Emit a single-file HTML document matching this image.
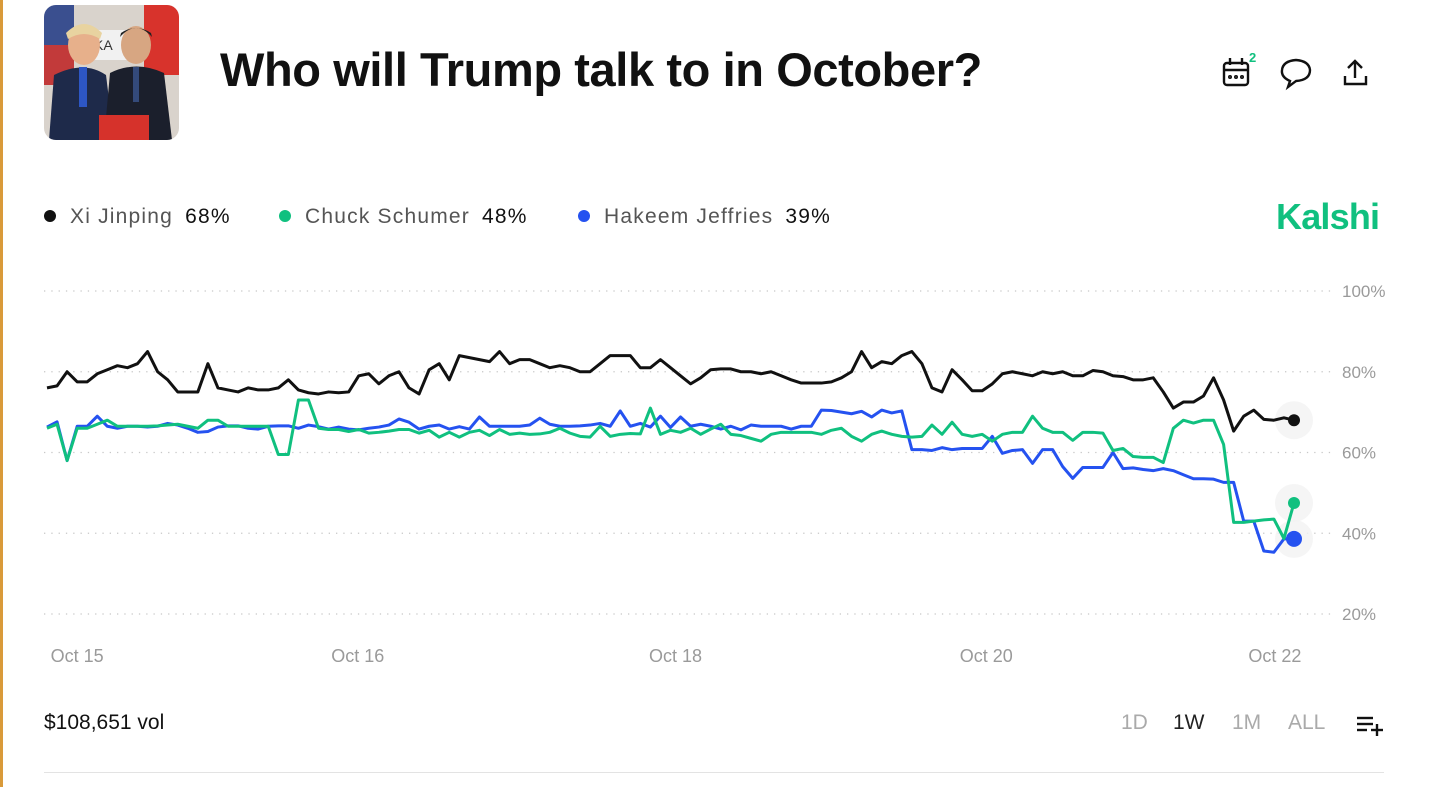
<!DOCTYPE html>
<html><head><meta charset="utf-8">
<style>
html,body{margin:0;padding:0;background:#fff;width:1456px;height:787px;overflow:hidden;font-family:"Liberation Sans",sans-serif;}
#edge{position:absolute;left:0;top:0;width:3px;height:787px;background:#d99a3a;}
#thumb{position:absolute;left:44px;top:5px;width:135px;height:135px;border-radius:12px;overflow:hidden;}
#title{position:absolute;left:220px;top:42px;font-size:47px;font-weight:bold;color:#111;letter-spacing:-0.4px;}
.leg{position:absolute;top:205px;font-size:21px;color:#555;white-space:nowrap;letter-spacing:1.2px}
.leg b{font-weight:normal;color:#111;margin-left:12px}
.dot{display:inline-block;width:12px;height:12px;border-radius:6px;margin-right:14px;vertical-align:1px}
#kalshi{position:absolute;left:1276px;top:196px;font-size:36px;font-weight:bold;color:#10c07f;letter-spacing:-0.8px}
#vol{position:absolute;left:44px;top:711px;font-size:21px;color:#111}
.tf{position:absolute;top:711px;font-size:21px;color:#aaa}
#sep{position:absolute;left:44px;top:772px;width:1340px;height:1px;background:#e3e3e3}
svg text{font-family:"Liberation Sans",sans-serif}
</style></head><body>
<div id="edge"></div>
<div id="thumb">
<svg width="135" height="135" viewBox="0 0 135 135">
<rect width="135" height="135" fill="#d9d3cc"/>
<rect x="0" y="0" width="30" height="40" fill="#3a4f8f"/>
<rect x="0" y="40" width="30" height="40" fill="#c23a3a"/>
<rect x="100" y="0" width="35" height="70" fill="#d8332c"/>
<rect x="45" y="25" width="45" height="30" fill="#f1f1f1"/>
<text x="50" y="45" font-size="14" fill="#333">KA</text>
<ellipse cx="40" cy="40" rx="16" ry="20" fill="#e7b08b"/>
<path d="M22 28 Q40 10 58 28 L56 34 Q40 24 24 34Z" fill="#e8d3a0"/>
<path d="M5 135 L10 70 Q40 55 62 70 L70 135Z" fill="#1e2a4a"/>
<rect x="35" y="62" width="8" height="40" fill="#2d56c4"/>
<ellipse cx="92" cy="40" rx="15" ry="19" fill="#d7a682"/>
<path d="M76 32 Q92 14 108 32 L107 28 Q92 18 77 28Z" fill="#222"/>
<path d="M60 135 L66 68 Q92 55 120 68 L128 135Z" fill="#1b1f2c"/>
<rect x="89" y="62" width="6" height="35" fill="#344a7a"/>
<rect x="55" y="110" width="50" height="25" fill="#d6322b"/>
</svg></div>
<div id="title">Who will Trump talk to in October?</div>
<svg style="position:absolute;left:1218px;top:52px" width="160" height="44">
<g stroke="#111" stroke-width="2.4" fill="none">
<rect x="6" y="11" width="24" height="22" rx="3"/><line x1="6" y1="18" x2="30" y2="18"/><line x1="12" y1="6" x2="12" y2="13"/><line x1="24" y1="6" x2="24" y2="13"/>
<circle cx="12" cy="25" r="0.8"/><circle cx="18" cy="25" r="0.8"/><circle cx="24" cy="25" r="0.8"/></g>
<text x="31" y="10" font-size="13" font-weight="bold" fill="#10c07f">2</text>
<g stroke="#111" stroke-width="2.4" fill="none">
<path d="M70 35 L72 29 Q63 25 64 18 Q65 9 78 8 Q91 9 92 18 Q92 28 78 29 Z"/></g>
<g stroke="#111" stroke-width="2.4" fill="none">
<line x1="137" y1="9" x2="137" y2="26"/><path d="M130 16 L137 9 L144 16"/><path d="M127 24 V32 H148 V24"/></g>
</svg>
<div class="leg" style="left:44px"><span class="dot" style="background:#111"></span>Xi Jinping<b>68%</b></div>
<div class="leg" style="left:279px"><span class="dot" style="background:#10c07f"></span>Chuck Schumer<b>48%</b></div>
<div class="leg" style="left:578px"><span class="dot" style="background:#2552f0"></span>Hakeem Jeffries<b>39%</b></div>
<div id="kalshi">Kalshi</div>
<svg id="chart" style="position:absolute;left:0;top:0" width="1456" height="787"></svg>
<div id="vol">$108,651 vol</div>
<div class="tf" style="left:1121px">1D</div>
<div class="tf" style="left:1173px;color:#222">1W</div>
<div class="tf" style="left:1232px">1M</div>
<div class="tf" style="left:1288px">ALL</div>
<svg style="position:absolute;left:1356px;top:714px" width="30" height="22">
<g stroke="#111" stroke-width="2.4"><line x1="1" y1="4" x2="17" y2="4"/><line x1="1" y1="10" x2="17" y2="10"/><line x1="1" y1="16" x2="11" y2="16"/><line x1="15" y1="16" x2="27" y2="16"/><line x1="21" y1="10" x2="21" y2="22"/></g></svg>
<div id="sep"></div>
<script>
const xiValues=[76,76.5,80,77.5,77.5,79.5,80.5,81.5,81,82,85,80,78,75,75,75,82,76,75.5,75,76,75.5,75.5,76,78,75.5,74.8,74.5,75,74.8,75,79,79.5,77,79,80,76,74.5,80.5,82,78,84,83.5,83,82.5,85,82,83,83,82,81,81.5,81,80,80,82,84,84,84,81,81,83,81,79,77,78.5,80.5,80.7,80.7,80,80,79.5,80,79,78,77.2,77.2,77.2,77.5,78.5,80,85,81,82.5,82,84,85,82,76,75,80.5,78,75.3,75.3,77,79.5,80,79.5,79,80,79.5,80,79,79,80.3,80,79,78.8,78,78,78.5,75,71,72.5,72.5,74,78.5,73,65.3,69,70.5,68.2,68,68.6,68];
const schumerValues=[66,67,58,66,66,67,68,66.5,66.5,66.5,66.5,66.6,66.8,67,66.5,66,68,68,66.5,66.5,66.5,66.5,66.5,59.5,59.5,73,73,66,65.7,65.7,65.2,65.7,64.8,65,65.3,65.7,65.7,64.8,65.5,63.8,65,63.8,65,65.5,64.2,65.7,64.5,64.8,64.5,64.6,65,66,64.8,64,63.8,66.5,64,64.5,64.7,64.6,71,64.5,65.5,65,66,64.5,65.8,67,64.5,64.2,63.5,62.8,64.5,65,65,65,65,64.5,65.5,66,64,62.8,64.5,65.3,64.5,64,63.8,64,66.8,64.5,67.5,64.5,64,64.5,62.8,64.5,65,65,69,66,65,65,63,65,65,64.8,60.5,61,59,58.8,58.8,57.5,66,68,67.3,68,68,62,42.7,42.7,43,43.3,43.5,38.7,47.5];
const jeffriesValues=[66.3,67.6,58,66.5,66.5,69,66.5,66,66.5,66.5,66.3,66.5,67.2,66.8,66,65,65.2,66.3,66.6,66.6,66,65.8,66.5,66.6,66.6,66,66.8,66.4,65.8,66.3,65.8,65.6,66,66.3,66.8,68.3,67.5,65.8,66.5,66.8,65.8,66.4,65.8,68.8,66.5,66.5,66.5,66.5,66.8,68.5,67,66.5,66.5,66.6,66.8,67.2,66.5,70.3,66.5,67.2,66.3,69,66.2,68.8,66.5,67,66.5,65.8,66.5,65.6,66.8,66.5,66.5,66.5,65.8,66.5,66.5,70.5,70.4,70,69.6,70.2,68.8,70.5,69.8,70.3,60.7,60.7,60.5,61.2,60.7,61,61,61,64,59.8,60.5,60.7,57.3,60.7,60.7,56.5,53.6,56.3,56.3,56.3,60,56,56.2,55.8,55.5,56,55.5,54.5,53.5,53.5,53.4,52.6,52.6,43,43,35.6,35.3,38.6,38.6];
const yTicks=[100,80,60,40,20];
const yTickLabels=["100%","80%","60%","40%","20%"];
const xTickIdx=[3,30.9,62.5,93.4,122.1];
const xTickLabels=["Oct 15","Oct 16","Oct 18","Oct 20","Oct 22"];
const NS="http://www.w3.org/2000/svg";
const svg=document.getElementById('chart');
const N=xiValues.length;
const X=i=>47+i*(1294-47)/(N-1);
const Y=v=>291+(100-v)*(614-291)/80;
function mk(t,a){const e=document.createElementNS(NS,t);for(const k in a)e.setAttribute(k,a[k]);svg.appendChild(e);return e;}
yTicks.forEach((t,k)=>{
  const l=mk('line',{x1:44,x2:1336,y1:Y(t),y2:Y(t),stroke:'#c8c8c8','stroke-width':1.3,'stroke-dasharray':'1.3 6'});
  
  
  const tx=mk('text',{x:1342,y:Y(t)+6,'font-size':17,fill:'#9a9a9a'});
  tx.textContent=yTickLabels[k];
  
  
});
xTickIdx.forEach((t,k)=>{
  const tx=mk('text',{x:X(t),y:662,'font-size':18,fill:'#9a9a9a','text-anchor':'middle'});
  tx.textContent=xTickLabels[k];
  
  
});
const series=[[xiValues,'#111','xi'],[schumerValues,'#10c07f','schumer'],[jeffriesValues,'#2552f0','jeffries']];
series.forEach(([vals,c,n])=>{
  const last=vals[N-1];
  const h=mk('circle',{cx:X(N-1),cy:Y(last),r:19,fill:'#f2f2f2',opacity:0.8});
  
  
});
series.slice().reverse().forEach(([vals,c,n])=>{
  const p=mk('polyline',{points:vals.map((v,i)=>X(i)+','+Y(v)).join(' '),fill:'none',stroke:c,'stroke-width':3,'stroke-linejoin':'round'});
  
  
});
series.forEach(([vals,c,n])=>{
  const d=mk('circle',{cx:X(N-1),cy:Y(vals[N-1]),r:n==='jeffries'?8:6,fill:c});
  
  
});
</script>
</body></html>
